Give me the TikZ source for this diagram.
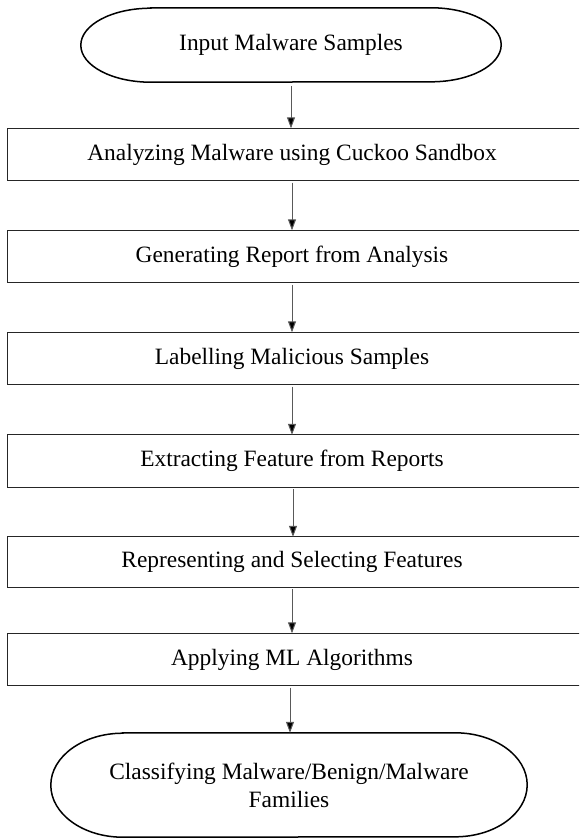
\documentclass[tikz,border=0pt]{standalone}
\usepackage{fontspec}
\setmainfont{Liberation Serif}
\usetikzlibrary{arrows.meta}
\tikzset{
  lbl/.style={font=\fontsize{23.4}{28}\selectfont, align=center, inner sep=0pt},
  stepbox/.style={lbl, minimum width=568pt, minimum height=52pt},
  boxline/.style={draw=black!85, line width=1.3pt},
  outline/.style={draw=black, line width=1.5pt},
  arr/.style={draw=black!65, line width=1pt, shorten <=2pt, -{Triangle[width=8pt,length=11pt,fill=black]}}
}
\begin{document}
\begin{tikzpicture}[x=1pt,y=-1pt]
\useasboundingbox (0,0) rectangle (579,838);
\clip (0,0) rectangle (579,838);
\fill[white] (0,0) rectangle (579,838);

% top terminator
\node[lbl, minimum width=420pt, minimum height=74pt] (e0) at (291,45) {Input Malware Samples};
\draw[outline] ([xshift=70pt]e0.north west) -- ([xshift=-70pt]e0.north east)
  arc[start angle=90, end angle=-90, x radius=70pt, y radius=37pt]
  -- ([xshift=70pt]e0.south west)
  arc[start angle=270, end angle=90, x radius=70pt, y radius=37pt] -- cycle;

\node[stepbox] (b1) at (292,154.5) {Analyzing Malware using Cuckoo Sandbox};
\node[stepbox] (b2) at (292,256.5) {Generating Report from Analysis};
\node[stepbox] (b3) at (292,358.5) {Labelling Malicious Samples};
\node[stepbox] (b4) at (292,461) {Extracting Feature from Reports};
\node[stepbox, minimum height=50pt] (b5) at (292,562) {Representing and Selecting Features};
\node[stepbox] (b6) at (292,659.5) {Applying ML Algorithms};
\foreach \b in {b1,b2,b3,b4,b5,b6}
  \draw[boxline] (\b.north west) rectangle ([xshift=12pt]\b.south east);

% bottom terminator
\node[lbl, minimum width=476pt, minimum height=104pt] (e1) at (289,785) {Classifying Malware/Benign/Malware\\Families};
\draw[outline] ([xshift=72pt]e1.north west) -- ([xshift=-72pt]e1.north east)
  arc[start angle=90, end angle=-90, x radius=72pt, y radius=52pt]
  -- ([xshift=72pt]e1.south west)
  arc[start angle=270, end angle=90, x radius=72pt, y radius=52pt] -- cycle;

\draw[arr, shorten <=4pt] (e0.south) -- (e0.south |- b1.north);
\draw[arr] (b1.south) -- (b2.north);
\draw[arr] (b2.south) -- (b3.north);
\draw[arr] (b3.south) -- (b4.north);
\draw[arr] ([xshift=1pt]b4.south) -- ([xshift=1pt]b5.north);
\draw[arr] (b5.south) -- (b6.north);
\draw[arr] ([xshift=-2pt]b6.south) -- ([xshift=-2pt]b6.south |- e1.north);
\end{tikzpicture}
\end{document}
